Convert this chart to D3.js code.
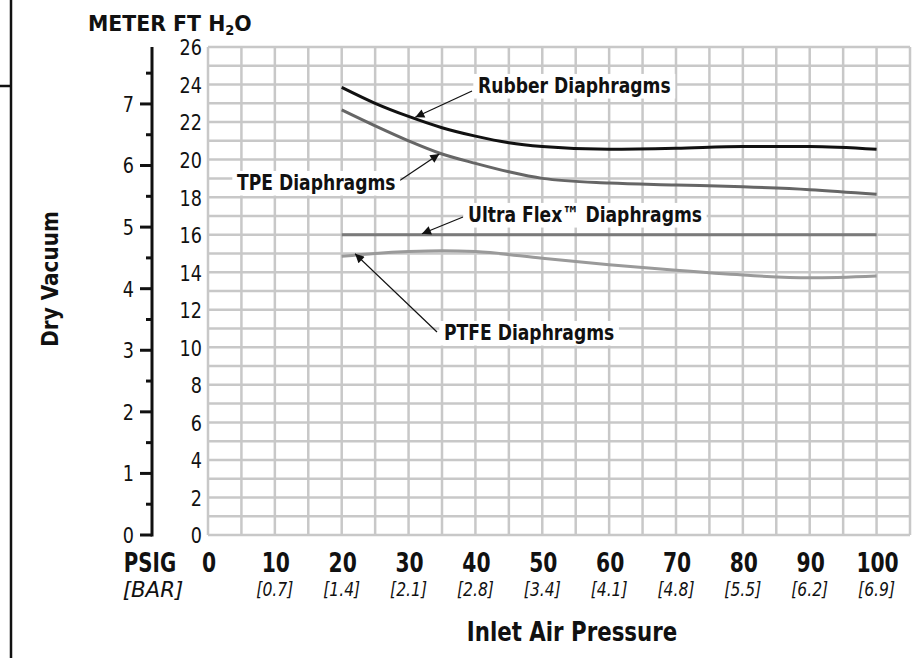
<!DOCTYPE html>
<html>
<head>
<meta charset="utf-8">
<script src="https://d3js.org/d3.v7.min.js"></script>
<style>
  body { margin: 0; background: #fff; }
  text { font-family: "DejaVu Sans", sans-serif; fill: #111; }
</style>
</head>
<body>
<div id="graph"></div>
<script>

// pressure ticks (psig) and bar equivalents
var psiTicks = [0, 10, 20, 30, 40, 50, 60, 70, 80, 90, 100];
var barTicks = ["", "[0.7]", "[1.4]", "[2.1]", "[2.8]", "[3.4]", "[4.1]", "[4.8]", "[5.5]", "[6.2]", "[6.9]"];
var ftTicks = [0, 2, 4, 6, 8, 10, 12, 14, 16, 18, 20, 22, 24, 26];
var meterTicks = [0, 1, 2, 3, 4, 5, 6, 7];

// dry vacuum curves, ft H2O vs psig
var rubber = [[20, 23.85], [25, 23.0], [30, 22.3], [35, 21.7], [40, 21.25], [45, 20.9], [50, 20.7], [60, 20.55], [70, 20.6], [80, 20.7], [90, 20.7], [100, 20.55]];
var tpe = [[20, 22.65], [25, 21.8], [30, 21.0], [35, 20.3], [40, 19.8], [45, 19.35], [50, 19.0], [60, 18.75], [70, 18.65], [80, 18.55], [90, 18.4], [100, 18.15]];
var ultraFlex = [[20, 16], [40, 16], [60, 16], [80, 16], [100, 16]];
var ptfe = [[20, 14.85], [25, 15.0], [30, 15.1], [35, 15.15], [40, 15.1], [50, 14.75], [60, 14.4], [70, 14.1], [80, 13.85], [90, 13.7], [100, 13.8]];

var W = 913, H = 658;
var svg = d3.select("#graph").append("svg")
  .attr("width", W).attr("height", H);

var x = d3.scaleLinear().domain([0, 105]).range([208, 910]);
var y = d3.scaleLinear().domain([0, 26]).range([535, 47]);
var FT_PER_M = 3.28084;

// no condensed font installed, so squeeze text horizontally
function squeeze(sel, px, py, k) {
  return sel.attr("x", 0).attr("y", 0)
    .attr("transform", "translate(" + px + "," + py + ") scale(" + k + ",1)");
}

// outer frame line on the left
svg.append("line").attr("x1", 11).attr("x2", 11).attr("y1", 0).attr("y2", H)
  .attr("stroke", "#111").attr("stroke-width", 2.5);
svg.append("line").attr("x1", 0).attr("x2", 11).attr("y1", 86).attr("y2", 86)
  .attr("stroke", "#111").attr("stroke-width", 2.5);

// grid
var grid = svg.append("g");
grid.selectAll(".hg").data(d3.range(0, 27, 1)).enter().append("line")
  .attr("x1", x(0)).attr("x2", x(105))
  .attr("y1", function(d) { return y(d); }).attr("y2", function(d) { return y(d); })
  .attr("stroke", "#c8c8c8").attr("stroke-width", 2.5);
grid.selectAll(".vg").data(d3.range(0, 106, 5)).enter().append("line")
  .attr("y1", y(0)).attr("y2", y(26))
  .attr("x1", function(d) { return x(d); }).attr("x2", function(d) { return x(d); })
  .attr("stroke", "#c8c8c8").attr("stroke-width", 2.5);

// ft axis labels
svg.append("g").attr("transform", "translate(" + (x(0) - 6) + ",0)")
  .call(d3.axisLeft(y).tickValues(ftTicks).tickSize(0).tickPadding(0))
  .call(function(g) { g.select(".domain").remove(); })
  .selectAll("text").attr("x", 0).attr("font-size", 22).attr("dy", "0.36em")
  .attr("transform", "scale(0.8,1)")
  .style("font-family", '"DejaVu Sans", sans-serif');

// meter axis
var ym = d3.scaleLinear().domain([0, 26 / FT_PER_M]).range([535, 47]);
var mAxis = svg.append("g").attr("transform", "translate(152,0)");
mAxis.append("line").attr("x1", 0).attr("x2", 0).attr("y1", ym(0) + 1.5).attr("y2", 47)
  .attr("stroke", "#111").attr("stroke-width", 3);
mAxis.selectAll(".minor").data(d3.range(0.5, 8, 1)).enter().append("line")
  .attr("x1", -6).attr("x2", 0)
  .attr("y1", function(d) { return ym(d); }).attr("y2", function(d) { return ym(d); })
  .attr("stroke", "#111").attr("stroke-width", 3);
mAxis.selectAll(".major").data(meterTicks).enter().append("line")
  .attr("x1", -12).attr("x2", 0)
  .attr("y1", function(d) { return ym(d); }).attr("y2", function(d) { return ym(d); })
  .attr("stroke", "#111").attr("stroke-width", 3);
mAxis.selectAll(".ml").data(meterTicks).enter().append("text")
  .each(function(d) { squeeze(d3.select(this), -18, ym(d), 0.8); })
  .attr("dy", "0.36em").attr("text-anchor", "end").attr("font-size", 22)
  .text(function(d) { return d; });

// header
var hdr = squeeze(svg.append("text"), 88, 31, 0.93).attr("font-size", 22).attr("font-weight", "bold");
hdr.append("tspan").text("METER  FT  H");
hdr.append("tspan").attr("font-size", 14).attr("dy", 4).text("2");
hdr.append("tspan").attr("dy", -4).text("O");

// y title
svg.append("text").attr("transform", "translate(58,279) rotate(-90) scale(0.87,1)")
  .attr("text-anchor", "middle").attr("font-size", 23).attr("font-weight", "bold")
  .text("Dry Vacuum");

// x tick labels
svg.selectAll(".xt").data(psiTicks).enter().append("text")
  .each(function(d) { squeeze(d3.select(this), x(d) + 1, 572, 0.78); })
  .attr("text-anchor", "middle").attr("font-size", 26).attr("font-weight", "bold")
  .text(function(d) { return d; });
svg.selectAll(".bt").data(psiTicks).enter().append("text")
  .each(function(d) { squeeze(d3.select(this), x(d), 596, 0.78); })
  .attr("text-anchor", "middle").attr("font-size", 20).attr("font-style", "italic")
  .text(function(d, i) { return barTicks[i]; });
squeeze(svg.append("text"), 150, 572, 0.76).attr("text-anchor", "middle")
  .attr("font-size", 26).attr("font-weight", "bold").text("PSIG");
squeeze(svg.append("text"), 153, 597, 0.97).attr("text-anchor", "middle")
  .attr("font-size", 22).attr("font-style", "italic").text("[BAR]");
squeeze(svg.append("text"), 572, 641, 0.79).attr("text-anchor", "middle")
  .attr("font-size", 27).attr("font-weight", "bold").text("Inlet Air Pressure");

// curves
var line = d3.line()
  .x(function(d) { return x(d[0]); })
  .y(function(d) { return y(d[1]); })
  .curve(d3.curveMonotoneX);
var series = [
  { data: ptfe, color: "#9a9a9a" },
  { data: ultraFlex, color: "#7a7a7a" },
  { data: tpe, color: "#666" },
  { data: rubber, color: "#111" }
];
svg.selectAll(".curve").data(series).enter().append("path")
  .attr("d", function(d) { return line(d.data); })
  .attr("fill", "none").attr("stroke", function(d) { return d.color; })
  .attr("stroke-width", 3);

// annotations
svg.append("defs").append("marker")
  .attr("id", "arr").attr("viewBox", "0 0 10 10").attr("refX", 10).attr("refY", 5)
  .attr("markerWidth", 12).attr("markerHeight", 9).attr("markerUnits", "userSpaceOnUse")
  .attr("orient", "auto")
  .append("path").attr("d", "M0,0 L10,5 L0,10 z").attr("fill", "#111");

var notes = [
  { text: "Rubber Diaphragms", tx: 478, ty: 93, x1: 472, y1: 91, at: [31, 22.2] },
  { text: "TPE Diaphragms", tx: 237, ty: 190, x1: 399, y1: 181, at: [34.6, 20.25] },
  { text: "Ultra Flex\u2122 Diaphragms", tx: 468, ty: 222, x1: 463, y1: 217, at: [32, 16] },
  { text: "PTFE Diaphragms", tx: 444, ty: 340, x1: 437, y1: 332, at: [22, 14.93] }
];
var ng = svg.selectAll(".note").data(notes).enter().append("g");
ng.append("line")
  .attr("x1", function(d) { return d.x1; }).attr("y1", function(d) { return d.y1; })
  .attr("x2", function(d) { return x(d.at[0]); }).attr("y2", function(d) { return y(d.at[1]) - 1; })
  .attr("stroke", "#111").attr("stroke-width", 1.2).attr("marker-end", "url(#arr)");
ng.each(function(d) {
  var g = d3.select(this).append("g")
    .attr("transform", "translate(" + d.tx + "," + d.ty + ") scale(0.78,1)");
  var t = g.append("text").attr("x", 0).attr("y", 0)
    .attr("font-size", 22).attr("font-weight", "bold").text(d.text);
  var b = t.node().getBBox();
  g.insert("rect", "text").attr("x", b.x - 6).attr("y", b.y + 1)
    .attr("width", b.width + 12).attr("height", b.height - 1).attr("fill", "#fff");
});

</script>
</body>
</html>
